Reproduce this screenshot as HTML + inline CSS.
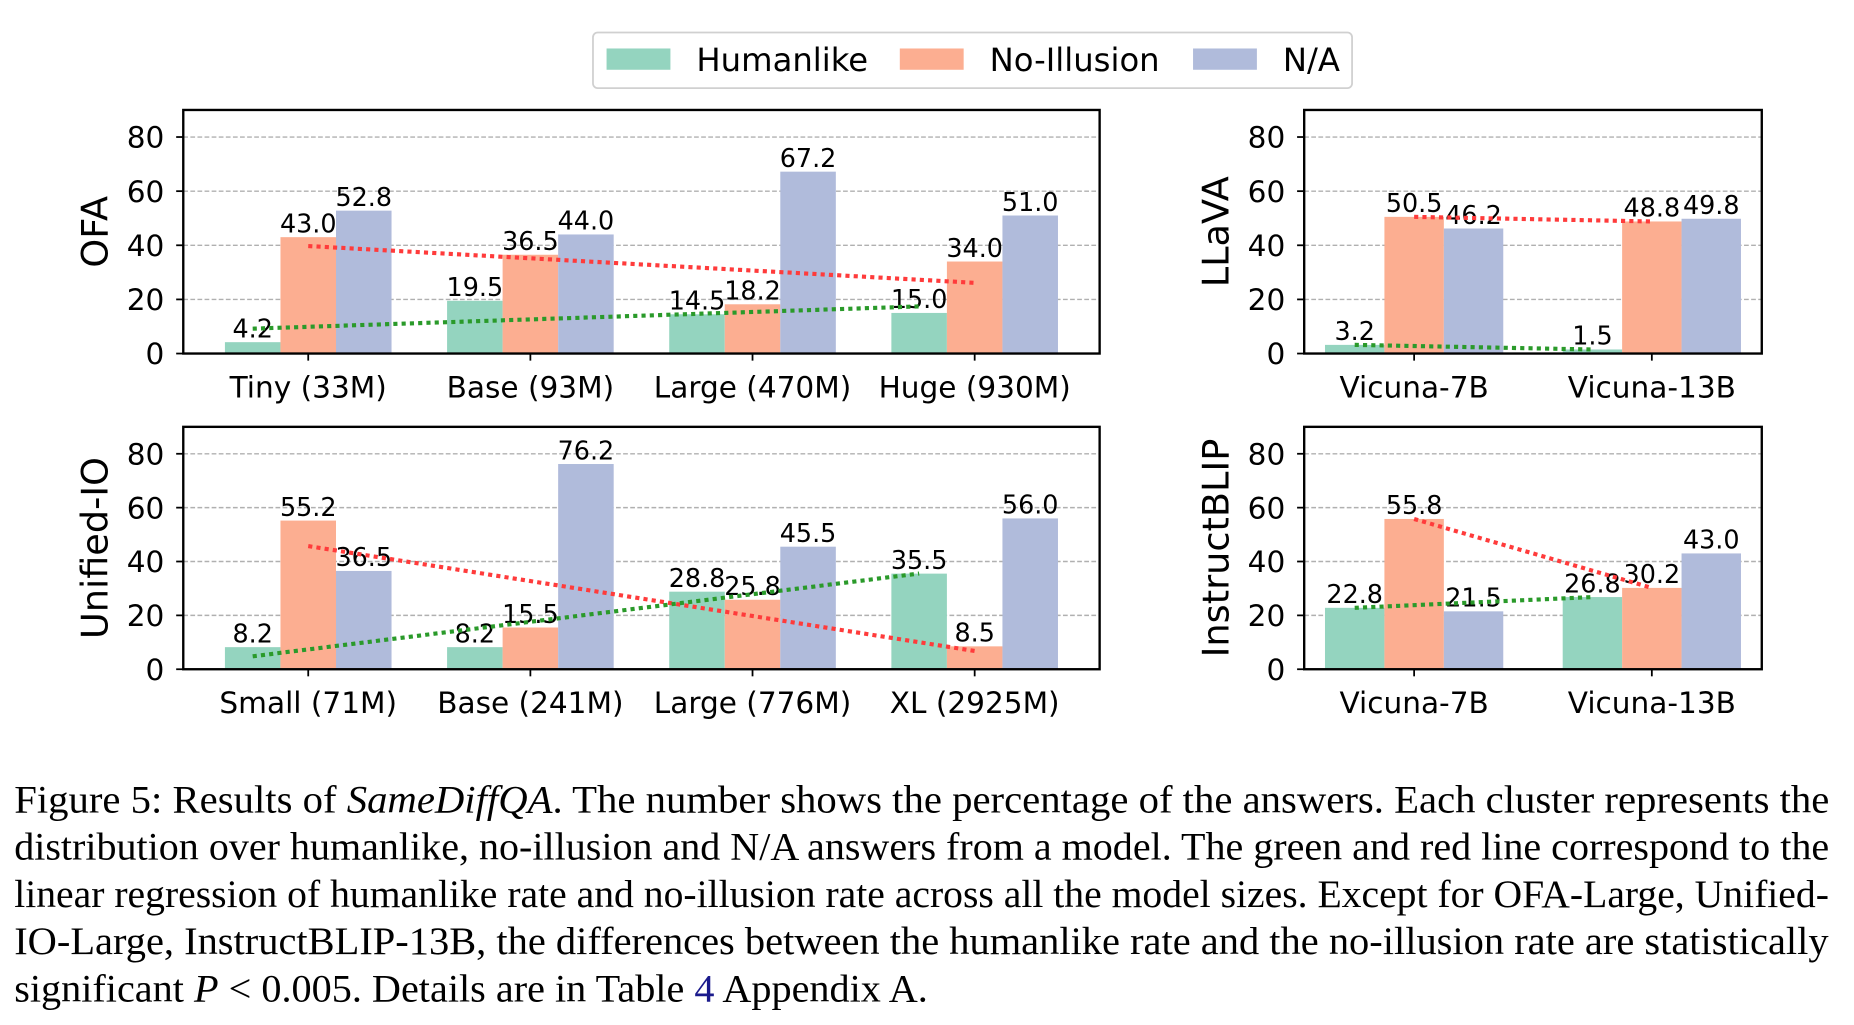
<!DOCTYPE html>
<html><head><meta charset="utf-8">
<style>
html,body{margin:0;padding:0;background:#fff;overflow:hidden}
#wrap{position:absolute;left:0;top:0;width:1568px;height:867px;transform:scale(1.18240);transform-origin:0 0}
svg{position:absolute;left:0;top:0}
.cap{position:absolute;left:12px;font-family:"Liberation Serif",serif;font-size:33px;line-height:40px;white-space:nowrap;color:#000;transform-origin:0 50%}
</style></head>
<body>
<div id="wrap">
<svg id="chart" width="1568" height="660" viewBox="0 0 1568 660"></svg>
<div>
<div class="cap" style="top:657px">Figure 5: Results of <i>SameDiffQA</i>. The number shows the percentage of the answers. Each cluster represents the</div>
<div class="cap" style="top:697px">distribution over humanlike, no-illusion and N/A answers from a model. The green and red line correspond to the</div>
<div class="cap" style="top:737px">linear regression of humanlike rate and no-illusion rate across all the model sizes. Except for OFA-Large, Unified-</div>
<div class="cap" style="top:777px">IO-Large, InstructBLIP-13B, the differences between the humanlike rate and the no-illusion rate are statistically</div>
<div class="cap last" style="top:817px">significant <i>P</i> &lt; 0.005. Details are in Table <span style="color:#1a1a8c">4</span> Appendix A.</div>
</div>
</div>
<script>
const seriesNames = ["Humanlike","No-Illusion","N/A"];
const ofaCats = ["Tiny (33M)","Base (93M)","Large (470M)","Huge (930M)"];
const ofaHuman = [4.2,19.5,14.5,15.0];
const ofaNo = [43.0,36.5,18.2,34.0];
const ofaNA = [52.8,44.0,67.2,51.0];
const uioCats = ["Small (71M)","Base (241M)","Large (776M)","XL (2925M)"];
const uioHuman = [8.2,8.2,28.8,35.5];
const uioNo = [55.2,15.5,25.8,8.5];
const uioNA = [36.5,76.2,45.5,56.0];
const llavaCats = ["Vicuna-7B","Vicuna-13B"];
const llavaHuman = [3.2,1.5];
const llavaNo = [50.5,48.8];
const llavaNA = [46.2,49.8];
const blipCats = ["Vicuna-7B","Vicuna-13B"];
const blipHuman = [22.8,26.8];
const blipNo = [55.8,30.2];
const blipNA = [21.5,43.0];
const yTicks = [0,20,40,60,80];

const NS="http://www.w3.org/2000/svg";
const svg=document.getElementById('chart');
const COLORS=["#94d4bf","#fcae91","#b0bbdb"];
function mk(tag,attrs,parent){const e=document.createElementNS(NS,tag);for(const k in attrs)e.setAttribute(k,attrs[k]);(parent||svg).appendChild(e);return e;}
const FONT='"DejaVu Sans","Liberation Sans",sans-serif';

function panel(name,title,cats,h,n,na,x0,x1,y0,y1){
  const g=mk('g',{});
  
  
  const nc=cats.length;
  const span=(nc-1)+0.75, mg=span*0.05+0.375;
  const lo=-mg,hi=nc-1+mg;
  const sx=v=>x0+(v-lo)/(hi-lo)*(x1-x0);
  const sy=v=>y1-v/90*(y1-y0);
  const bw=(sx(1)-sx(0))*0.25;
  yTicks.forEach(t=>{
    if(t>0){const gl=mk('line',{x1:x0,x2:x1,y1:sy(t),y2:sy(t),stroke:'#b0b0b0','stroke-width':1.2,'stroke-dasharray':'4,2'},g);
    
    }
    mk('line',{x1:x0-6,x2:x0,y1:sy(t),y2:sy(t),stroke:'#000','stroke-width':1.5},g);
    const tl=mk('text',{x:x0-16,y:sy(t)+9,'text-anchor':'end','font-size':25,'font-family':FONT},g);
    tl.textContent=t;
    
    
  });
  const series=[h,n,na];
  series.forEach((arr,s)=>{
    arr.forEach((v,i)=>{
      const cx=sx(i+(s-1)*0.25);
      const r=mk('rect',{x:cx-bw/2,y:sy(v),width:bw,height:sy(0)-sy(v),fill:COLORS[s]},g);
      
      
      const t=mk('text',{x:cx,y:sy(v)-4,'text-anchor':'middle','font-size':21.5,'font-family':FONT},g);
      t.textContent=v.toFixed(1);
      
      
    });
  });
  function reg(arr,off,color,nm){
    const m=arr.length,xs=arr.map((_,i)=>i);
    const mx=xs.reduce((a,b)=>a+b,0)/m,my=arr.reduce((a,b)=>a+b,0)/m;
    let sxy=0,sxx=0;xs.forEach((x,i)=>{sxy+=(x-mx)*(arr[i]-my);sxx+=(x-mx)*(x-mx);});
    const b=sxy/sxx,a=my-b*mx;
    const l=mk('line',{x1:sx(0+off),y1:sy(a),x2:sx(m-1+off),y2:sy(a+b*(m-1)),stroke:color,'stroke-width':3.5,'stroke-dasharray':'3.5,3.5'},g);
    
    
  }
  reg(n,0,'#ff3b3b','no-illusion-regression-line');
  reg(h,-0.25,'#2a9a2a','humanlike-regression-line');
  cats.forEach((c,i)=>{
    mk('line',{x1:sx(i),x2:sx(i),y1:y1,y2:y1+6,stroke:'#000','stroke-width':1.5},g);
    const t=mk('text',{x:sx(i),y:y1+37,'text-anchor':'middle','font-size':25,'font-family':FONT},g);
    t.textContent=c;
    
    
  });
  const fr=mk('rect',{x:x0,y:y0,width:x1-x0,height:y1-y0,fill:'none',stroke:'#000','stroke-width':2},g);
  
  
  const yt=mk('text',{x:0,y:0,'text-anchor':'middle','font-size':31,'font-family':FONT,transform:`translate(${x0-64},${(y0+y1)/2}) rotate(-90)`},g);
  yt.textContent=title;
  
  
}
panel('ofa','OFA',ofaCats,ofaHuman,ofaNo,ofaNA,155,930,93,299);
panel('unified-io','Unified-IO',uioCats,uioHuman,uioNo,uioNA,155,930,361,566);
panel('llava','LLaVA',llavaCats,llavaHuman,llavaNo,llavaNA,1103,1490,93,299);
panel('instructblip','InstructBLIP',blipCats,blipHuman,blipNo,blipNA,1103,1490,361,566);

const lg=mk('g',{});


mk('rect',{x:501.5,y:27.5,width:642,height:47,rx:4,fill:'#fff',stroke:'#d0d0d0','stroke-width':1.5},lg);
const lx=[513,761,1009];
seriesNames.forEach((s,i)=>{
  const p=mk('rect',{x:lx[i],y:41,width:54,height:18,fill:COLORS[i]},lg);
  
  
  const t=mk('text',{x:lx[i]+76,y:60,'font-size':27.3,'font-family':FONT},lg);
  t.textContent=s;
  
  
});

// fit caption lines to width by horizontal scaling
const caps=document.querySelectorAll('.cap');
let scales=[];
caps.forEach((c,i)=>{
  if(i<4){const w=c.scrollWidth;const s=1535/w;scales.push(s);c.style.transform='scaleX('+s+')';}
});
const avg=scales.reduce((a,b)=>a+b,0)/scales.length;
caps[4].style.transform='scaleX('+avg+')';
</script>
</body></html>
